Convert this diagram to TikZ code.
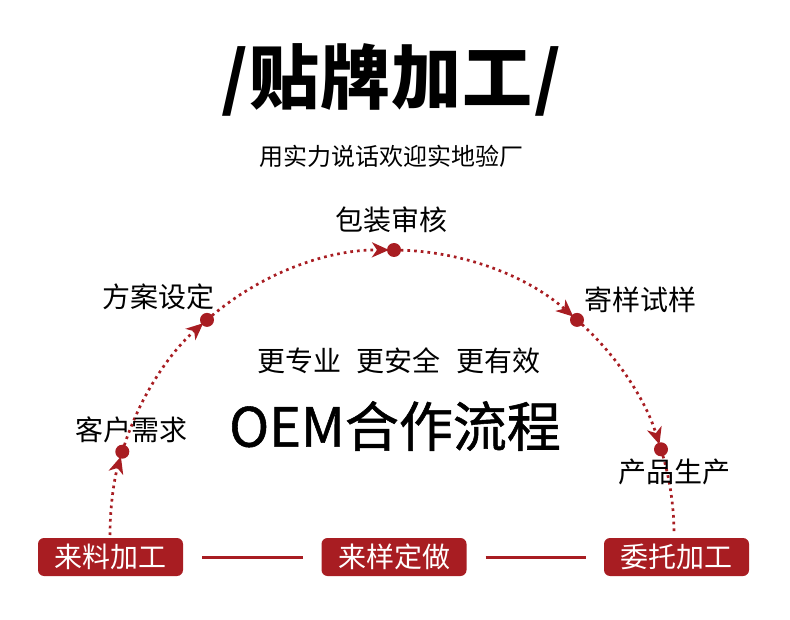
\documentclass[tikz,border=0pt]{standalone}
\usepackage{fontspec}
\setmainfont{Noto Sans CJK SC}
\newfontfamily\medfont[FakeBold=1]{Noto Sans CJK SC}
\usetikzlibrary{arrows.meta}
\definecolor{brand}{RGB}{168,29,34}
\begin{document}
\begin{tikzpicture}[x=1pt,y=1pt,
  lbl/.style={font=\fontsize{28}{30}\selectfont, inner sep=0pt, text=black},
  dotn/.style={circle, fill=brand, inner sep=0pt, minimum size=14pt},
  flowline/.style={brand, line width=2.7pt, dash pattern=on 2.7pt off 4pt},
  flow/.style={flowline, -{Stealth[length=17pt,width=15pt,inset=5pt]}, shorten >=5pt},
  tag/.style={fill=brand, rounded corners=6pt, minimum width=145pt, minimum height=38pt, text=white, font=\fontsize{28}{30}\selectfont, inner sep=0pt},
  link/.style={brand, line width=3pt, shorten <=19pt, shorten >=18pt},
  ell/.style={x radius=282pt, y radius=285pt}]
\useasboundingbox (0,0) rectangle (790,619);
% title
\node[font=\fontsize{70}{74}\selectfont\bfseries, inner sep=0pt] (title) at (391.5,539) {/\hspace{1pt}贴\hspace{1pt}牌\hspace{1pt}加\hspace{1pt}工\hspace{2pt}/};
\node[font=\fontsize{24}{26}\selectfont, inner sep=0pt] (sub) at (391,463) {用实力说话欢迎实地验厂};
% arc points
\coordinate (s) at (110,84);
\coordinate (p1) at (122.3,167.3);
\coordinate (p2) at (207,299.1);
\coordinate (p3) at (394,369);
\coordinate (p4) at (577,299.1);
\coordinate (p5) at (661,169.7);
\draw[flow] (s) arc[start angle=180, end angle=163, ell];
\draw[flow] (p1) arc[start angle=163, end angle=131, ell];
\draw[flow] (p2) arc[start angle=131, end angle=89.6, ell];
\draw[flow] (p3) arc[start angle=89.6, end angle=49, ell];
\draw[flow] (p4) arc[start angle=49, end angle=17.5, ell];
\draw[flowline] (p5) arc[start angle=17.5, end angle=0.3, ell] coordinate (e);
\node[dotn] (d1) at (p1) {};
\node[dotn] (d2) at (p2) {};
\node[dotn] (d3) at (p3) {};
\node[dotn] (d4) at (p4) {};
\node[dotn] (d5) at (p5) {};
% labels
\node[lbl] (l3) at (391,399) {包装审核};
\node[lbl] (l2) at (158,322) {方案设定};
\node[lbl] (l1) at (131,189) {客户需求};
\node[lbl] (l4) at (640,319) {寄样试样};
\node[lbl] (l5) at (674,147) {产品生产};
\node[lbl] (slogan) at (399,258) {更专业\hspace{16pt}更安全\hspace{16pt}更有效};
\node[font=\fontsize{54}{58}\selectfont\medfont, inner sep=0pt] (main) at (395,193) {OEM合作流程};
% bottom tags
\node[tag] (b1) at (110.5,62) {来料加工};
\node[tag] (b2) at (394,62) {来样定做};
\node[tag] (b3) at (676.5,62) {委托加工};
\draw[link] (b1.east) -- (b2.west);
\draw[link] (b2.east) -- (b3.west);
\end{tikzpicture}
\end{document}
